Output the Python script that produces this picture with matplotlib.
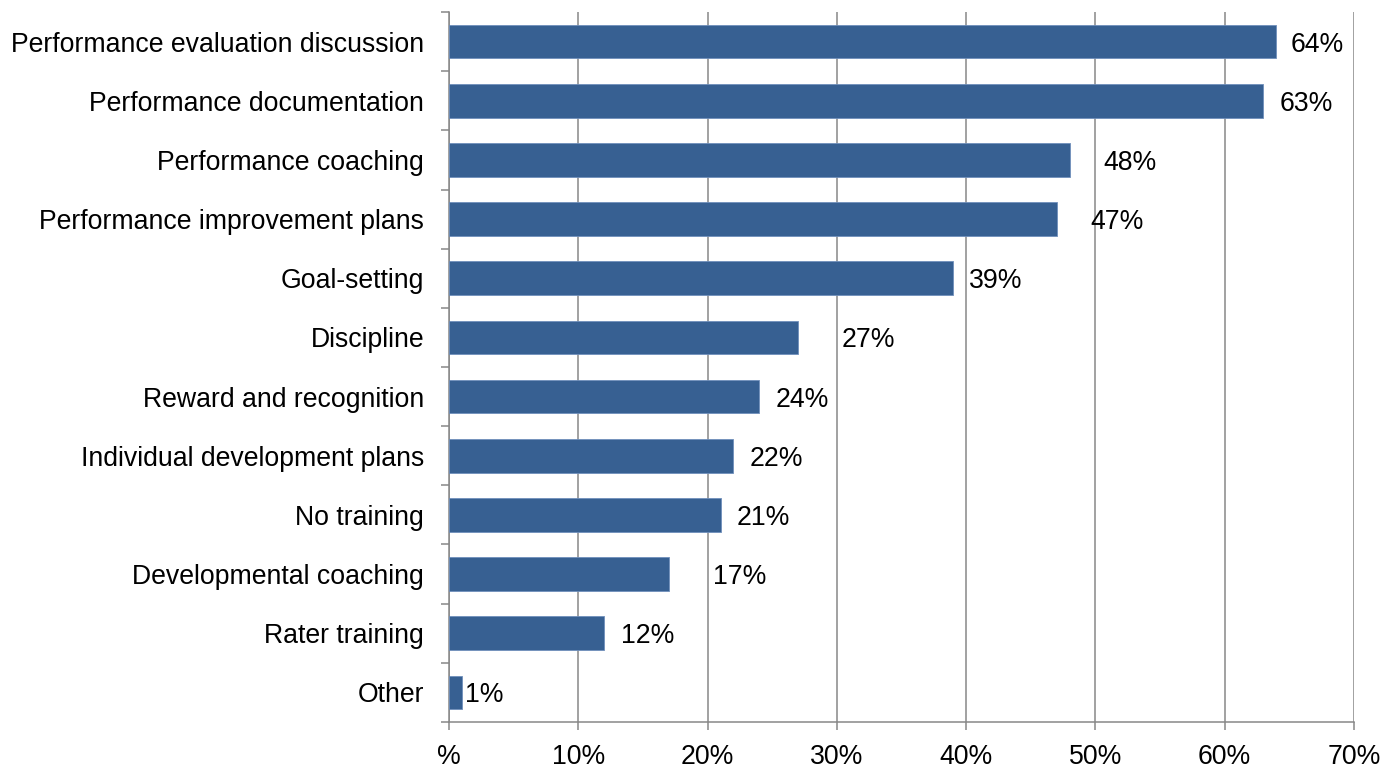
import matplotlib
matplotlib.use("Agg")
import matplotlib.pyplot as plt
import numpy as np

plt.rcParams["font.family"] = ["Liberation Sans", "DejaVu Sans"]

categories = [
    "Performance evaluation discussion",
    "Performance documentation",
    "Performance coaching",
    "Performance improvement plans",
    "Goal-setting",
    "Discipline",
    "Reward and recognition",
    "Individual development plans",
    "No training",
    "Developmental coaching",
    "Rater training",
    "Other",
]
values = [64, 63, 48, 47, 39, 27, 24, 22, 21, 17, 12, 1]
x_ticks = [0, 10, 20, 30, 40, 50, 60, 70]
x_tick_labels = ["%", "10%", "20%", "30%", "40%", "50%", "60%", "70%"]

# gap between bar end and its value label, in pixels
label_gap_px = [14, 16, 34, 34, 16, 44, 16, 16, 16, 44, 17, 3]

BAR_COLOR = "#376092"
GRID_COLOR = "#878787"
FONT_SIZE = 19.2

fig = plt.figure(figsize=(13.98, 7.75), dpi=100)
ax = fig.add_axes([0.3212, 0.0684, 0.6473, 0.9161])

y = np.arange(len(categories))
ax.barh(y, values, height=0.57, color=BAR_COLOR, edgecolor="#6f8fbb",
        linewidth=0.6, zorder=3)

for yi, v, gap in zip(y, values, label_gap_px):
    ax.annotate(f"{v}%", xy=(v, yi), xytext=(gap * 0.72, 0),
                textcoords="offset points", ha="left", va="center_baseline",
                fontsize=FONT_SIZE, color="black", zorder=4)

ax.set_xlim(0, 70)
ax.set_ylim(len(categories) - 0.5, -0.5)

ax.set_xticks(x_ticks)
ax.set_xticklabels(x_tick_labels, fontsize=FONT_SIZE)
ax.set_yticks(y)
ax.set_yticklabels(categories, fontsize=FONT_SIZE)
ax.set_yticks(np.arange(-0.5, len(categories)), minor=True)

ax.tick_params(axis="x", length=6, width=1.1, color=GRID_COLOR, pad=10)
ax.tick_params(axis="y", which="major", length=0, pad=18)
ax.tick_params(axis="y", which="minor", length=6, width=1.1, color=GRID_COLOR)

ax.grid(axis="x", color=GRID_COLOR, linewidth=1.1, zorder=0)
ax.set_axisbelow(True)

for side in ("top", "right"):
    ax.spines[side].set_visible(False)
for side in ("left", "bottom"):
    ax.spines[side].set_color(GRID_COLOR)
    ax.spines[side].set_linewidth(1.1)

fig.savefig("out.png", dpi=100)
